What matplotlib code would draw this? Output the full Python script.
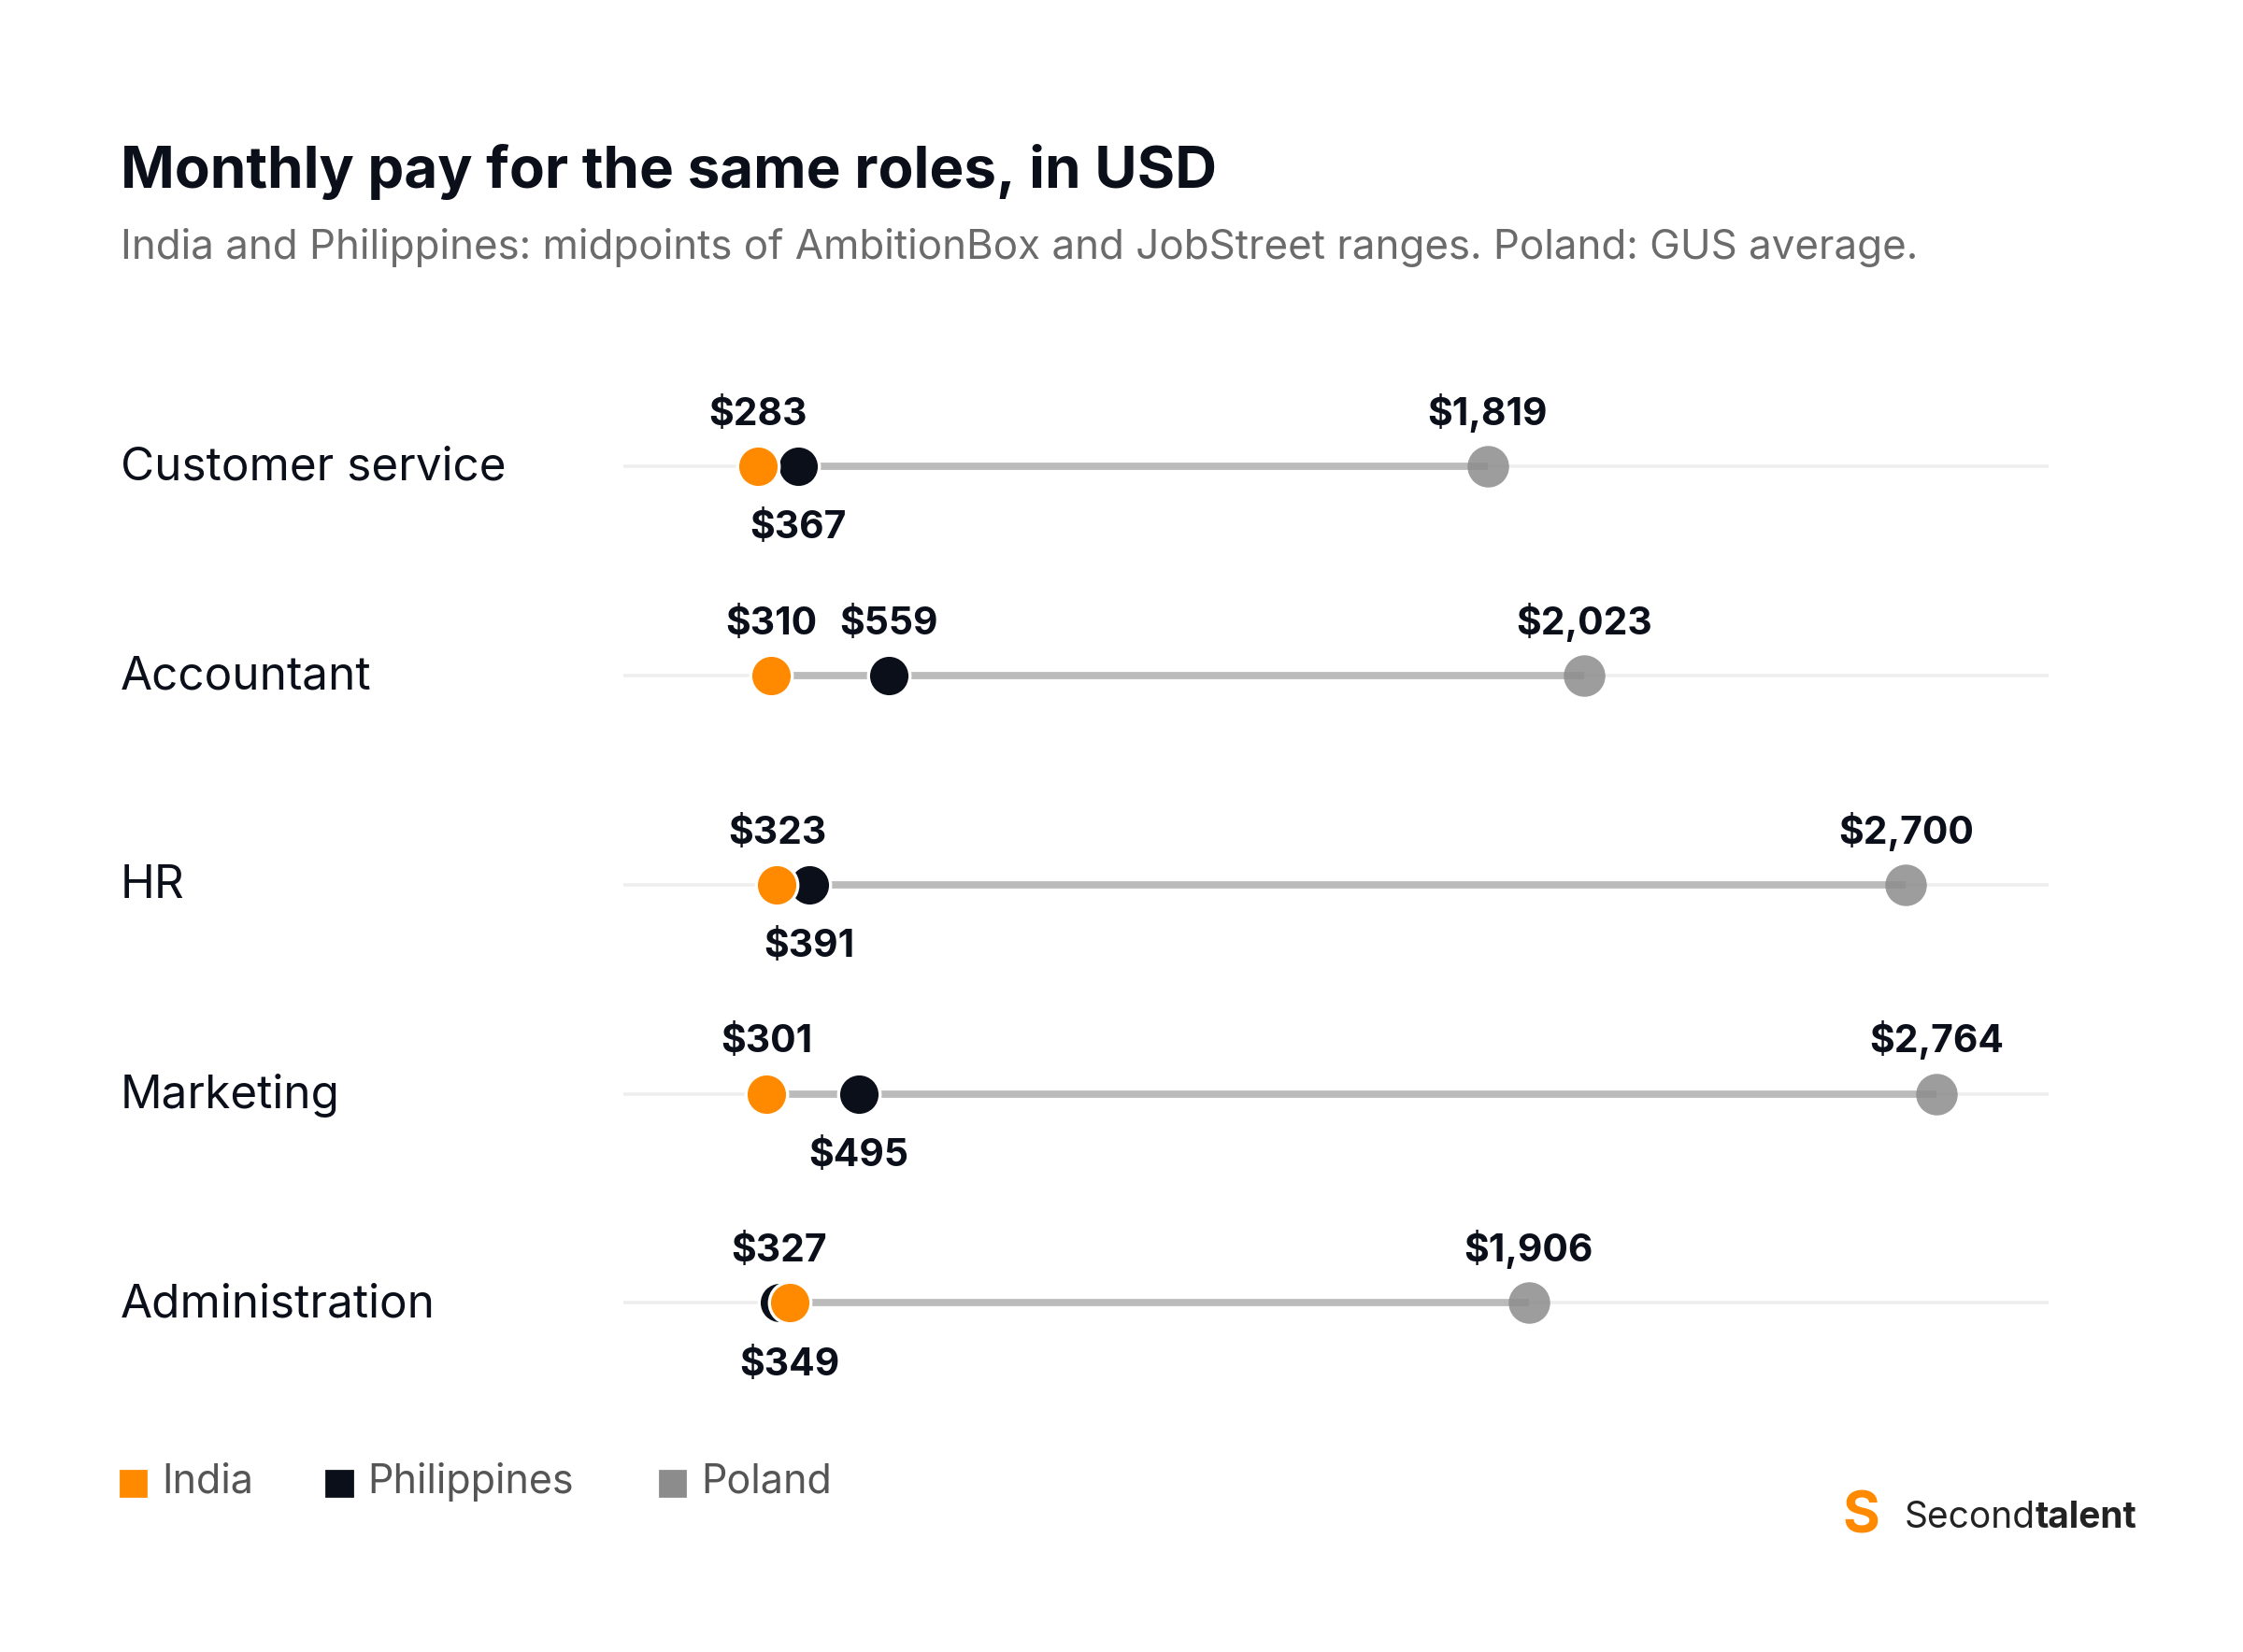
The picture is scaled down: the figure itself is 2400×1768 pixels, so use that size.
import matplotlib
matplotlib.use("Agg")
import matplotlib.pyplot as plt

plt.rcParams['font.family'] = ['Inter', 'DejaVu Sans']

roles = ["Customer service", "Accountant", "HR", "Marketing", "Administration"]
india = [283, 310, 323, 301, 349]
philippines = [367, 559, 391, 495, 327]
poland = [1819, 2023, 2700, 2764, 1906]

C_IN, C_PH, C_PL = "#FF8A00", "#0B0F1A", "#8C8C8C"
W, H = 1568, 1155

fig = plt.figure(figsize=(12, 8.84), dpi=200)
ax = fig.add_axes([436/W, 1-984/H, (1432-436)/W, (984-253)/H])
ax.set_xlim(0, 3000)
ax.set_ylim(4.5, -0.5)
ax.axis('off')

def fmt(v):
    return f"${v:,}"

MS = 16
for i, role in enumerate(roles):
    ax.plot([0, 3000], [i, i], color="#EEEEEE", lw=1.3, zorder=1, solid_capstyle='butt')
    lo = min(india[i], philippines[i]); hi = poland[i]
    ax.plot([lo, hi], [i, i], color="#BBBBBB", lw=2.8, zorder=2, solid_capstyle='butt')
    ax.plot(poland[i], i, 'o', ms=MS, color=C_PL, alpha=0.85, mec='none', zorder=3)
    ax.plot(philippines[i], i, 'o', ms=MS, color=C_PH, mec='white', mew=1.2, zorder=4)
    ax.plot(india[i], i, 'o', ms=MS, color=C_IN, mec='white', mew=1.2, zorder=5)
    a, b = sorted([india[i], philippines[i]])
    kw = dict(ha='center', fontsize=14.7, fontweight='bold', color="#0B0F1A", textcoords='offset points')
    close = (b - a) < 220
    ax.annotate(fmt(a), (a, i), xytext=(0, 13), va='bottom', **kw)
    if close:
        ax.annotate(fmt(b), (b, i), xytext=(0, -17), va='top', **kw)
    else:
        ax.annotate(fmt(b), (b, i), xytext=(0, 13), va='bottom', **kw)
    ax.annotate(fmt(hi), (hi, i), xytext=(0, 13), va='bottom', **kw)
    fig.text(84/W, 1-(327+146.3*i)/H, role, fontsize=17.8, va='center', ha='left', color="#0B0F1A")

fig.text(84/W, 1-120/H, "Monthly pay for the same roles, in USD", fontsize=22.3, fontweight='bold',
         va='center', color="#0B0F1A")
fig.text(84/W, 1-173/H, "India and Philippines: midpoints of AmbitionBox and JobStreet ranges. Poland: GUS average.",
         fontsize=15.8, va='center', color="#6B6B6B")

for x, lab, c in [(84, "India", C_IN), (228, "Philippines", C_PH), (461, "Poland", C_PL)]:
    fig.patches.append(plt.Rectangle((x/W, 1-1046/H), 18/W, 18/H, transform=fig.transFigure,
                                     color=c, figure=fig))
    fig.text((x+29)/W, 1-1036/H, lab, fontsize=15.5, va='center', color="#555555")

fig.text(1288/W, 1-1061/H, "S", fontsize=22, fontweight='bold', color=C_IN, va='center', ha='left')
t = fig.text(1331/W, 1-1061/H, "Second", fontsize=14, color="#222222", va='center', ha='left')
fig.canvas.draw()
bb = t.get_window_extent(renderer=fig.canvas.get_renderer())
x1 = fig.transFigure.inverted().transform((bb.x1, bb.y0))[0]
fig.text(x1, 1-1061/H, "talent", fontsize=14, fontweight='bold', color="#222222", va='center', ha='left')

fig.savefig("out.png", dpi=200, facecolor='white')
